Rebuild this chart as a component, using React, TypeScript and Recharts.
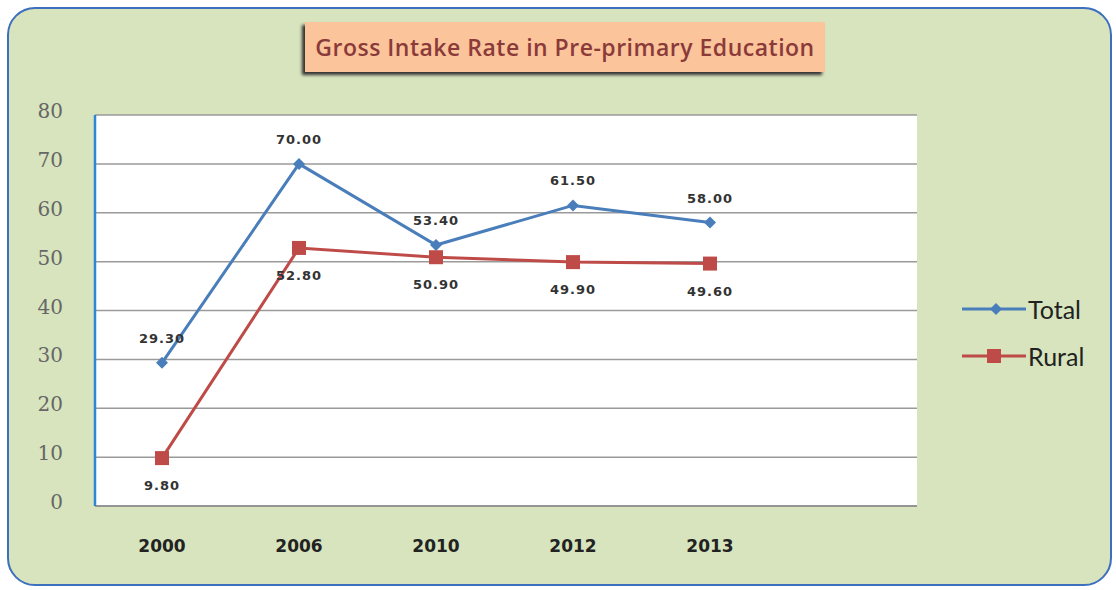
import React from 'react';
import { LineChart, Line, XAxis, YAxis, CartesianGrid, Legend, LabelList } from 'recharts';

const years = ['2000', '2006', '2010', '2012', '2013'];
const totalValues = [29.3, 70.0, 53.4, 61.5, 58.0];
const ruralValues = [9.8, 52.8, 50.9, 49.9, 49.6];
const yTicks = [0, 10, 20, 30, 40, 50, 60, 70, 80];
const seriesOrder = ['total', 'rural'];

const TOTAL_COLOR = '#4a7ebb';
const RURAL_COLOR = '#be4b48';

const data = years.map((year, i) => ({ year, total: totalValues[i], rural: ruralValues[i] }));

const labelStyle = { fontFamily: 'DejaVu Sans', fontWeight: 'bold', fontSize: 13, fill: '#333', letterSpacing: 1 };

const Diamond = (props: any) => {
    const { cx, cy } = props;
    if (cx == null || cy == null) return null;
    const r = 6;
    return <polygon points={`${cx},${cy - r} ${cx + r},${cy} ${cx},${cy + r} ${cx - r},${cy}`} fill={TOTAL_COLOR} />;
};

const Square = (props: any) => {
    const { cx, cy } = props;
    if (cx == null || cy == null) return null;
    const s = 7;
    return <rect x={cx - s} y={cy - s} width={s * 2} height={s * 2} fill={RURAL_COLOR} />;
};

const renderLegend = (props: any) => {
    const items = [...(props.payload || [])].sort(
        (a: any, b: any) => seriesOrder.indexOf(a.dataKey) - seriesOrder.indexOf(b.dataKey)
    );
    return (
        <div>
            {items.map((entry: any, i: number) => (
                <div key={i} style={{ display: 'flex', alignItems: 'center', height: 47 }}>
                    <svg width={68} height={20}>
                        <line x1={2} y1={10} x2={66} y2={10} stroke={entry.color} strokeWidth={3} />
                        {entry.dataKey === 'total' ? (
                            <polygon points="36,4 42,10 36,16 30,10" fill={entry.color} />
                        ) : (
                            <rect x={27} y={3} width={14} height={14} fill={entry.color} />
                        )}
                    </svg>
                    <span style={{ fontFamily: 'Lato', fontSize: 25, color: '#222' }}>{entry.value}</span>
                </div>
            ))}
        </div>
    );
};

function Title() {
    return (
        <div
            style={{
                position: 'absolute',
                left: 305,
                top: 22,
                width: 520,
                height: 50,
                background: '#fbc49a',
                boxShadow: '-3px 3px 3px #333',
                display: 'flex',
                alignItems: 'center',
                justifyContent: 'center',
                fontFamily: 'Open Sans',
                fontWeight: 600,
                fontSize: 23,
                letterSpacing: 0.5,
                color: '#8b3a3a',
                zIndex: 1,
            }}
        >
            Gross Intake Rate in Pre-primary Education
        </div>
    );
}

export default function App() {
    return (
        <div style={{ position: 'absolute', left: 0, top: 0, width: 1116, height: 590, background: '#fff' }}>
            <div
                style={{
                    position: 'absolute',
                    left: 7,
                    top: 7,
                    width: 1101,
                    height: 575,
                    background: '#d7e4bd',
                    border: '2.5px solid #3c6fbe',
                    borderRadius: 28,
                }}
            />
            <Title />
            <div style={{ position: 'absolute', left: 0, top: 0 }}>
                <LineChart width={1116} height={590} data={data} margin={{ top: 115, right: 199, bottom: 44, left: 35 }}>
                    <CartesianGrid vertical={false} fill="#ffffff" stroke="#9a9a9a" strokeWidth={1.5} />
                    <XAxis
                        dataKey="year"
                        height={40}
                        padding={{ left: 67, right: 207 }}
                        axisLine={{ stroke: '#8c8c8c', strokeWidth: 1.5 }}
                        tickLine={false}
                        tickMargin={28}
                        tick={{ fontFamily: 'DejaVu Sans', fontWeight: 'bold', fontSize: 17, fill: '#222' }}
                    />
                    <YAxis
                        width={60}
                        domain={[0, 80]}
                        ticks={yTicks}
                        interval={0}
                        axisLine={{ stroke: '#2f86d6', strokeWidth: 2.5 }}
                        tickLine={false}
                        tickSize={0}
                        tickMargin={32}
                        tick={{ fontFamily: 'DejaVu Serif', fontSize: 20, fill: '#666', dy: -4 }}
                    />
                    <Legend
                        layout="vertical"
                        align="center"
                        verticalAlign="middle"
                        content={renderLegend}
                        wrapperStyle={{ left: 960, top: 285, width: 150 }}
                    />
                    <Line
                        dataKey="total"
                        name="Total"
                        stroke={TOTAL_COLOR}
                        strokeWidth={3}
                        dot={<Diamond />}
                        activeDot={false}
                        isAnimationActive={false}
                    >
                        <LabelList
                            dataKey="total"
                            position="top"
                            offset={20}
                            formatter={(v: any) => Number(v).toFixed(2)}
                            style={labelStyle}
                        />
                    </Line>
                    <Line
                        dataKey="rural"
                        name="Rural"
                        stroke={RURAL_COLOR}
                        strokeWidth={3}
                        dot={<Square />}
                        activeDot={false}
                        isAnimationActive={false}
                    >
                        <LabelList
                            dataKey="rural"
                            position="bottom"
                            offset={23}
                            formatter={(v: any) => Number(v).toFixed(2)}
                            style={labelStyle}
                        />
                    </Line>
                </LineChart>
            </div>
        </div>
    );
}
